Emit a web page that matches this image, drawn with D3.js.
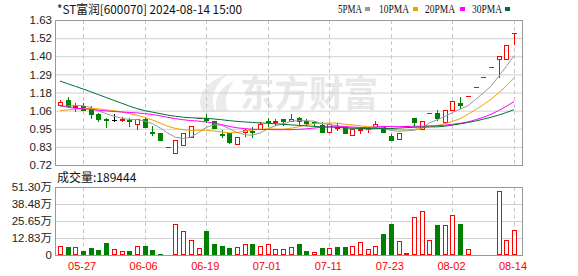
<!DOCTYPE html>
<html><head><meta charset="utf-8">
<script src="https://cdn.jsdelivr.net/npm/d3@7"></script>
<style>body{margin:0;background:#fff}svg{display:block}</style>
</head><body><svg id="c" width="578" height="276"></svg>
<script>
const title = "*ST富润[600070] 2024-08-14 15:00";
const dates = ["05-22","05-23","05-24","05-27","05-28","05-29","05-30","05-31","06-03","06-04","06-05","06-06","06-07","06-11","06-12","06-13","06-14","06-17","06-18","06-19","06-20","06-21","06-24","06-25","06-26","06-27","06-28","07-01","07-02","07-03","07-04","07-05","07-08","07-09","07-10","07-11","07-12","07-15","07-16","07-17","07-18","07-19","07-22","07-23","07-24","07-25","07-26","07-29","07-30","07-31","08-01","08-02","08-05","08-06","08-07","08-08","08-09","08-12","08-13","08-14"];
const openP = [1.097,1.128,1.084,1.090,1.080,1.040,1.010,1.005,1.001,1.005,0.977,1.009,0.929,0.919,0.833,0.795,0.846,0.898,1.015,1.018,0.996,0.913,0.918,0.852,0.924,0.935,0.946,0.993,0.992,1.010,0.998,1.012,0.993,0.992,0.971,0.928,0.952,0.958,0.911,0.941,0.943,0.960,0.958,0.899,0.883,0.967,1.015,0.948,1.046,1.048,0.992,1.065,1.111,1.154,1.212,1.272,1.336,1.384,1.384,1.547];
const highP = [1.130,1.149,1.107,1.107,1.090,1.046,1.017,1.037,1.024,1.012,1.009,1.013,0.963,0.921,0.833,0.877,0.921,0.967,1.015,1.038,0.999,0.940,0.918,0.896,0.949,0.959,0.987,1.012,1.009,1.011,1.043,1.023,1.007,0.999,0.992,0.982,0.982,0.960,0.950,0.960,0.957,0.996,0.960,0.913,0.921,0.967,1.017,0.996,1.046,1.065,1.068,1.121,1.149,1.154,1.212,1.272,1.336,1.403,1.473,1.547];
const lowP = [1.094,1.088,1.059,1.065,1.018,0.996,0.960,0.993,0.993,0.966,0.948,0.958,0.908,0.877,0.833,0.795,0.846,0.895,1.015,0.992,0.952,0.898,0.860,0.852,0.902,0.898,0.946,0.963,0.971,0.971,0.996,0.977,0.971,0.962,0.929,0.928,0.940,0.918,0.911,0.923,0.929,0.958,0.927,0.877,0.881,0.967,0.965,0.948,1.046,1.003,0.992,1.065,1.076,1.154,1.212,1.272,1.336,1.271,1.384,1.478];
const closeP = [1.117,1.088,1.089,1.068,1.042,1.009,1.005,1.005,1.009,0.999,1.007,0.960,0.923,0.877,0.833,0.877,0.921,0.967,1.015,1.002,0.955,0.907,0.862,0.896,0.937,0.930,0.980,0.988,0.996,0.998,1.011,0.998,0.984,0.985,0.929,0.977,0.960,0.923,0.946,0.947,0.950,0.980,0.927,0.880,0.921,0.967,0.992,0.996,1.046,1.017,1.068,1.121,1.099,1.154,1.212,1.272,1.336,1.403,1.473,1.547];
const volume = [70000,63000,62000,30000,50000,38000,93000,48000,33000,30000,68000,68000,38000,10000,2500,231000,181000,113000,50000,181000,83000,68000,53000,58000,80000,80000,68000,80000,43000,43000,58000,80000,33000,25000,53000,53000,62000,62000,68000,96000,48000,68000,158000,234000,106000,13000,289000,332000,113000,226000,226000,302000,234000,43000,7000,7000,7000,483000,113000,189444];
// closes before the first visible day (estimated, needed for the moving averages)
const priorClose = [1.60,1.58,1.57,1.55,1.56,1.54,1.55,1.53,1.54,1.49,1.34,1.21,1.15,1.12,1.10,1.09,1.08,1.07,1.06,1.06,1.05,1.04,1.03,1.04,1.035,1.06,1.07,1.08,1.098];
const maPeriods = [5,10,20,30];
const maNames = ["5PMA","10PMA","20PMA","30PMA"];
const priceTicks = [0.72,0.83375,0.9475,1.06125,1.175,1.28875,1.4025,1.51625,1.63];
const priceTickLabels = ["0.72","0.83","0.95","1.06","1.18","1.29","1.40","1.52","1.63"];
const volTicks = [0,128250,256500,384750,513000];
const volTickLabels = ["0","12.83万","25.65万","38.48万","51.30万"];
const xTickDates = ["05-27","06-06","06-19","07-01","07-11","07-23","08-02","08-14"];
const volLabel = "成交量:189444";

const RED="#ff0000", GREEN="#008000", BLACK="#000000";
const maColors = ["#999999","#f0a000","#ff00ff","#006f35"];
const L=55, R=522, pTop=20, pBot=165, vTop=187, vBot=255;
const svg = d3.select("#c");
svg.append("rect").attr("width",578).attr("height",276).attr("fill","#fff");

const x = d3.scalePoint().domain(dates).range([60,514]);
const y = d3.scaleLinear().domain([0.72,1.63]).range([pBot,pTop]);
const yv = d3.scaleLinear().domain([0,513000]).range([vBot,vTop]);
const px = v => Math.round(v)+0.5;

// watermark
const wm = svg.append("g");
wm.append("path").attr("d","M203,112 C195,98 204,82 228,74 C214,86 209,99 216,112 Z").attr("fill","#ebebeb");
wm.append("path").attr("d","M217,112 C213,99 220,87 234,81 C226,92 224,102 228,111 Z").attr("fill","#ebebeb");
wm.append("text").attr("x",240).attr("y",107).attr("font-family","Noto Sans CJK SC").attr("font-weight","bold")
  .attr("font-size",36).attr("fill","#e8e8e8").attr("textLength",138).attr("lengthAdjust","spacingAndGlyphs").text("东方财富");

// horizontal grid + y labels (price)
const ya = d3.axisLeft(y).tickValues(priceTicks).tickFormat((d,i)=>priceTickLabels[i]).tickSize(-(R-L)).tickPadding(3);
const gy = svg.append("g").attr("transform",`translate(${L},0)`).call(ya);
gy.select(".domain").remove();
gy.selectAll("line").attr("stroke","#d0d0d0");
gy.selectAll("text").attr("font-family","Liberation Sans").attr("font-size",11.5).attr("fill","#222");

const va = d3.axisLeft(yv).tickValues(volTicks).tickFormat((d,i)=>volTickLabels[i]).tickSize(-(R-L)).tickPadding(3);
const gv = svg.append("g").attr("transform",`translate(${L},0)`).call(va);
gv.select(".domain").remove();
gv.selectAll("line").attr("stroke","#d0d0d0");
gv.selectAll("text").attr("font-family","Liberation Sans, Noto Sans CJK SC").attr("font-size",11.5).attr("fill","#222");

// vertical dashed grid
xTickDates.forEach(d=>{
  const X = px(x(d));
  [[pTop,pBot],[vTop,vBot]].forEach(([a,b])=>{
    svg.append("line").attr("x1",X).attr("x2",X).attr("y1",a).attr("y2",b)
      .attr("stroke","#c8c8c8").attr("stroke-dasharray","4,3");
  });
});

// x labels
const xa = d3.axisBottom(x).tickValues(xTickDates).tickSize(0).tickPadding(7);
const gx = svg.append("g").attr("transform",`translate(-1.5,${vBot})`).call(xa);
gx.select(".domain").remove();
gx.selectAll("text").attr("font-family","Liberation Sans").attr("font-size",11).attr("fill",RED);

// borders
svg.append("rect").attr("x",L+0.5).attr("y",pTop+0.5).attr("width",R-L).attr("height",pBot-pTop).attr("fill","none").attr("stroke","#999");
svg.append("rect").attr("x",L+0.5).attr("y",vTop+0.5).attr("width",R-L).attr("height",vBot-vTop).attr("fill","none").attr("stroke","#999");

// candles
const prevClose = i => i===0 ? priorClose[priorClose.length-1] : closeP[i-1];
const dir = i => {
  const o=openP[i], c=closeP[i];
  if (c>o) return 1; if (c<o) return -1;
  const p=prevClose(i); return c>p?1:(c<p?-1:0);
};
const gc = svg.append("g");
dates.forEach((d,i)=>{
  const X = px(x(d));
  const o=openP[i], c=closeP[i], h=highP[i], l=lowP[i];
  const dr = dir(i);
  const col = dr>0?RED:(dr<0?GREEN:BLACK);
  const yo=Math.round(y(o)), yc=Math.round(y(c)), yh=Math.round(y(h)), yl=Math.round(y(l));
  if (o===c) {
    if (yh!==yl) gc.append("line").attr("x1",X).attr("x2",X).attr("y1",yh).attr("y2",yl+1).attr("stroke",col);
    gc.append("line").attr("x1",X-2.5).attr("x2",X+2.5).attr("y1",yc+0.5).attr("y2",yc+0.5).attr("stroke",col);
  } else if (c>o) {
    if (yh<yc) gc.append("line").attr("x1",X).attr("x2",X).attr("y1",yh).attr("y2",yc).attr("stroke",col);
    if (yl>yo) gc.append("line").attr("x1",X).attr("x2",X).attr("y1",yo+1).attr("y2",yl+1).attr("stroke",col);
    gc.append("rect").attr("x",X-2).attr("y",yc+0.5).attr("width",4).attr("height",Math.max(1,yo-yc))
      .attr("fill","#fff").attr("stroke",col);
  } else {
    gc.append("line").attr("x1",X).attr("x2",X).attr("y1",yh).attr("y2",yl+1).attr("stroke",col);
    gc.append("rect").attr("x",X-2.5).attr("y",yo).attr("width",5).attr("height",Math.max(1,yc-yo+1)).attr("fill",col);
  }
  // volume
  const up = c >= prevClose(i);
  const yt = Math.round(yv(volume[i]));
  if (up) {
    gc.append("rect").attr("x",X-2).attr("y",yt+0.5).attr("width",4).attr("height",Math.max(0,vBot-yt-1))
      .attr("fill","#fff").attr("stroke",RED);
  } else {
    gc.append("rect").attr("x",X-2.5).attr("y",yt).attr("width",5).attr("height",vBot-yt).attr("fill",GREEN);
  }
});

// moving averages
const all = priorClose.concat(closeP);
const off = priorClose.length;
maPeriods.forEach((n,k)=>{
  const vals = dates.map((d,i)=>d3.mean(all.slice(off+i-n+1, off+i+1)));
  const line = d3.line().x((v,i)=>x(dates[i])).y(v=>y(v));
  svg.append("path").attr("d",line(vals)).attr("fill","none").attr("stroke",maColors[k]).attr("stroke-width",1);
});

// title, legend, volume label
svg.append("text").attr("x",57).attr("y",14).attr("font-family","Noto Sans CJK SC").attr("font-size",12).attr("fill","#111")
  .attr("textLength",185).attr("lengthAdjust","spacingAndGlyphs").text(title);
const legX = [338,379,425,472], legW=[24,30,30,30], sqX=[365,413,460,505];
maNames.forEach((nm,k)=>{
  svg.append("text").attr("x",legX[k]).attr("y",13).attr("font-family","Liberation Serif").attr("font-size",12).attr("fill","#111")
    .attr("textLength",legW[k]).attr("lengthAdjust","spacingAndGlyphs").text(nm);
  svg.append("rect").attr("x",sqX[k]).attr("y",7).attr("width",5).attr("height",4).attr("fill",maColors[k]);
});
svg.append("text").attr("x",57).attr("y",182).attr("font-family","Noto Sans CJK SC").attr("font-size",12).attr("fill","#111").text(volLabel);
</script></body></html>
